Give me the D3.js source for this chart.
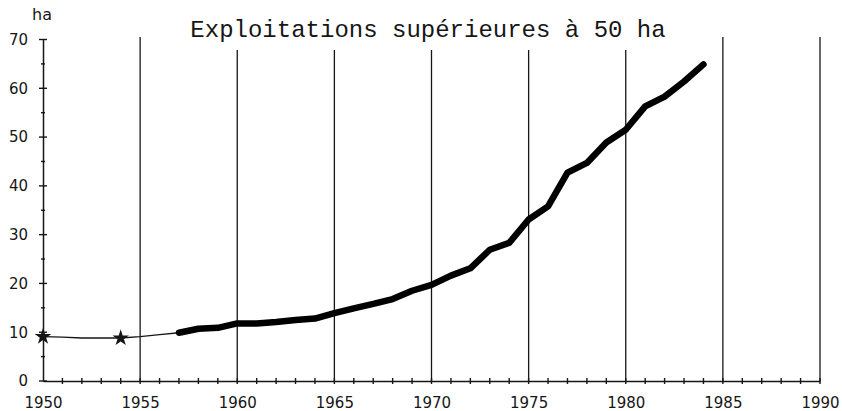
<!DOCTYPE html>
<html>
<head>
<meta charset="utf-8">
<script src="https://cdn.jsdelivr.net/npm/d3@7"></script>
<style>
  html, body { margin: 0; padding: 0; background: #fff; }
  svg { display: block; }
</style>
</head>
<body>
<svg id="chart" width="842" height="411"></svg>
<script>
// ---- data ----
const titleText = "Exploitations supérieures à 50 ha";
const unitLabel = "ha";
const xTickLabels = [1950, 1955, 1960, 1965, 1970, 1975, 1980, 1985, 1990];
const yTickLabels = [0, 10, 20, 30, 40, 50, 60, 70];
const earlyYears = [1950, 1951, 1952, 1953, 1954, 1955, 1956, 1957];
const earlyValues = [9.1, 9.0, 8.8, 8.8, 8.8, 9.1, 9.5, 9.9];
const starYears = [1950, 1954];
const starValues = [9.1, 8.8];
const mainYears = [1957, 1958, 1959, 1960, 1961, 1962, 1963, 1964, 1965, 1966,
                   1967, 1968, 1969, 1970, 1971, 1972, 1973, 1974, 1975, 1976,
                   1977, 1978, 1979, 1980, 1981, 1982, 1983, 1984];
const mainValues = [9.9, 10.7, 10.9, 11.8, 11.8, 12.1, 12.5, 12.8, 13.9, 14.9,
                    15.8, 16.8, 18.5, 19.7, 21.6, 23.1, 26.9, 28.3, 33.1, 35.8,
                    42.7, 44.7, 48.9, 51.5, 56.3, 58.3, 61.4, 64.9];

// ---- layout ----
const svg = d3.select("#chart");
const ink = "#161616";
const x = d3.scaleLinear().domain([1950, 1990]).range([43, 820]);
const y = d3.scaleLinear().domain([0, 70]).range([381, 39.5]);

// title
const title = svg.append("text")
  .attr("x", 428).attr("y", 37)
  .attr("text-anchor", "middle")
  .attr("font-family", "'Liberation Mono', 'DejaVu Sans Mono', monospace")
  .attr("font-size", 24)
  .attr("fill", ink)
  .text(titleText);
const tb = title.node().getBBox();

// vertical grid lines (stop below title where they would cross it)
svg.append("g").selectAll("line")
  .data(xTickLabels.filter(d => d > 1950))
  .join("line")
  .attr("x1", d => x(d)).attr("x2", d => x(d))
  .attr("y1", y(0))
  .attr("y2", d => (x(d) > tb.x - 8 && x(d) < tb.x + tb.width + 8) ? 50 : 37)
  .attr("stroke", ink).attr("stroke-width", 1.3);

// x axis
const xAxis = d3.axisBottom(x)
  .tickValues(xTickLabels)
  .tickFormat(d3.format("d"))
  .tickSize(0).tickPadding(16);
const gx = svg.append("g").attr("transform", `translate(0,${y(0)})`).call(xAxis);
gx.select(".domain").attr("stroke", ink).attr("stroke-width", 1.5);
gx.selectAll("text")
  .attr("font-family", "'DejaVu Sans', sans-serif")
  .attr("font-size", 15).attr("fill", ink);
// small year ticks crossing the x axis
svg.append("g").selectAll("line")
  .data(d3.range(1951, 1991))
  .join("line")
  .attr("x1", d => x(d)).attr("x2", d => x(d))
  .attr("y1", y(0) - 3).attr("y2", y(0) + 3)
  .attr("stroke", ink).attr("stroke-width", 1.4);

// y axis
const yAxis = d3.axisLeft(y)
  .tickValues(yTickLabels)
  .tickSize(0).tickPadding(15);
const gy = svg.append("g").attr("transform", `translate(${x(1950)},0)`).call(yAxis);
gy.select(".domain").attr("stroke", ink).attr("stroke-width", 1.5);
gy.selectAll("text")
  .attr("font-family", "'DejaVu Sans', sans-serif")
  .attr("font-size", 15).attr("fill", ink);
// major / minor ticks crossing the y axis
svg.append("g").selectAll("line")
  .data(d3.range(0, 71, 5))
  .join("line")
  .attr("x1", d => x(1950) - (d % 10 === 0 ? 4 : 2))
  .attr("x2", d => x(1950) + (d % 10 === 0 ? 4 : 2))
  .attr("y1", d => y(d)).attr("y2", d => y(d))
  .attr("stroke", ink).attr("stroke-width", 1.4);

// unit label
svg.append("text")
  .attr("x", x(1950) - 1).attr("y", 20)
  .attr("text-anchor", "middle")
  .attr("font-family", "'DejaVu Sans', sans-serif")
  .attr("font-size", 16).attr("fill", ink)
  .text(unitLabel);

// thin early line
const line = d3.line().x(d => x(d[0])).y(d => y(d[1]));
svg.append("path")
  .datum(earlyYears.map((d, i) => [d, earlyValues[i]]))
  .attr("d", line)
  .attr("fill", "none").attr("stroke", ink).attr("stroke-width", 1.4);

// stars
svg.append("g").selectAll("path")
  .data(starYears.map((d, i) => [d, starValues[i]]))
  .join("path")
  .attr("transform", d => `translate(${x(d[0])},${y(d[1])})`)
  .attr("d", d3.symbol(d3.symbolStar, 85))
  .attr("fill", ink);

// thick main line
svg.append("path")
  .datum(mainYears.map((d, i) => [d, mainValues[i]]))
  .attr("d", line)
  .attr("fill", "none").attr("stroke", "#000")
  .attr("stroke-width", 6.5)
  .attr("stroke-linejoin", "round")
  .attr("stroke-linecap", "round");
</script>
</body>
</html>
